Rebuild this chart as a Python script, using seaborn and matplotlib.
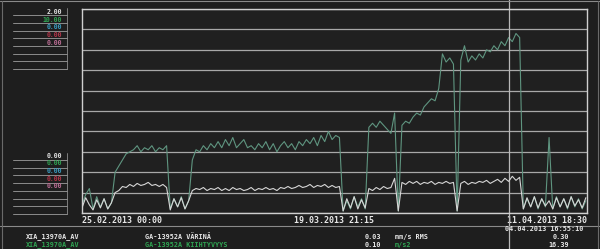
import matplotlib
matplotlib.use("Agg")
import matplotlib.pyplot as plt
import matplotlib.lines as mlines
import seaborn as sns
import pandas as pd

# ---------------- data ----------------
green_vals = [0.4, 0.9, 1.2, 0.2, 0.8, 0.3, 0.7, 0.2, 0.5,
              2.0, 2.3, 2.6, 2.9, 3.0, 3.1, 3.3, 3.0, 3.2, 3.1, 3.3, 3.0, 3.2, 3.1, 3.3,
              0.2, 0.7, 0.3, 0.8, 0.2, 0.6,
              2.6, 3.1, 3.0, 3.3, 3.1, 3.4, 3.2, 3.5, 3.2, 3.6, 3.3, 3.7, 3.2, 3.4, 3.6,
              3.2, 3.3, 3.1, 3.4, 3.2, 3.5, 3.1, 3.4, 3.0, 3.3, 3.5, 3.2, 3.4, 3.1, 3.5,
              3.3, 3.6, 3.4, 3.7, 3.3, 3.8, 3.5, 4.0, 3.6, 3.8, 3.7,
              0.1, 0.6, 0.2, 0.8, 0.3, 0.7, 0.2,
              4.2, 4.4, 4.2, 4.5, 4.3, 4.1, 3.9, 4.9, 0.1,
              4.3, 4.5, 4.4, 4.7, 4.9, 4.8, 5.2, 5.4, 5.6, 5.5, 6.1,
              7.8, 7.4, 7.6, 7.3, 0.1, 7.5, 8.2, 7.4, 7.7, 7.5, 7.8, 7.6, 8.0, 7.9,
              8.2, 8.0, 8.4, 8.2, 8.6, 8.4, 8.8, 8.6,
              0.2, 0.7, 0.3, 0.8, 0.2, 0.7, 0.3, 3.7, 0.2, 0.8, 0.3, 0.7, 0.2, 0.8,
              0.3, 0.7, 0.2, 0.6]
white_vals = [0.05, 0.15, 0.08, 0.03, 0.13, 0.05, 0.14, 0.04, 0.10,
              0.20, 0.22, 0.26, 0.25, 0.28, 0.26, 0.29, 0.27, 0.28, 0.30, 0.27, 0.28, 0.26, 0.28, 0.25,
              0.03, 0.14, 0.06, 0.15, 0.04, 0.12,
              0.22, 0.24, 0.23, 0.25, 0.22, 0.24, 0.23, 0.25, 0.22, 0.24, 0.22, 0.25, 0.23, 0.24, 0.22,
              0.23, 0.25, 0.22, 0.24, 0.23, 0.25, 0.23, 0.24, 0.22, 0.25, 0.24, 0.26, 0.24, 0.25, 0.27,
              0.25, 0.26, 0.28, 0.25, 0.27, 0.26, 0.28, 0.25, 0.27, 0.25, 0.26,
              0.02, 0.14, 0.05, 0.16, 0.04, 0.13, 0.05,
              0.24, 0.22, 0.25, 0.23, 0.26, 0.24, 0.25, 0.34, 0.02,
              0.30, 0.28, 0.31, 0.29, 0.31, 0.28, 0.30, 0.29, 0.31, 0.28, 0.30,
              0.29, 0.31, 0.29, 0.30, 0.02, 0.29, 0.31, 0.28, 0.30, 0.29, 0.31, 0.30, 0.32, 0.29,
              0.31, 0.33, 0.30, 0.34, 0.31, 0.36, 0.32, 0.35,
              0.04, 0.15, 0.06, 0.16, 0.05, 0.14, 0.07, 0.12, 0.04, 0.15, 0.06, 0.14, 0.05, 0.16,
              0.07, 0.13, 0.05, 0.15]
start_time = "2013-02-25 00:00"
sample_step = "8h"
x_start = "2013-02-25 00:00"
x_end = "2013-04-11 18:30"
x_ticks = ["2013-02-25 00:00", "2013-03-19 21:15", "2013-04-11 18:30"]
x_ticklabels = ["25.02.2013 00:00", "19.03.2013 21:15", "11.04.2013 18:30"]
cursor_time = "2013-04-04 16:55:10"
green_max = 10.0
white_max = 2.0

panel_top = ["2.00", "10.00", "0.00", "0.00", "0.00"]
panel_bottom = ["0.00", "0.00", "0.00", "0.00", "0.00"]
panel_colors = ["#e6e6e6", "#2fa552", "#3a9fc4", "#b8354a", "#c07098"]

info_row1 = ["XIA_13970A_AV", "GA-13952A VÄRINÄ", "0.03", "mm/s RMS", "0.30"]
info_row2 = ["XIA_13970A_AV", "GA-13952A KIIHTYVYYS", "0.10", "m/s2", "16.39"]
cursor_label = "04.04.2013 16:55:10"

# ---------------- styling ----------------
BG = "#1e1e1e"
PLOT_BG = "#202020"
GRID = "#a8a8a8"
FRAME = "#cfcfcf"
WHITE_LINE = "#d6d6d6"
GREEN_LINE = "#5f9580"
TXT = "#e8e8e8"
TXT_GREEN = "#2fa552"

sns.set_style("dark")
plt.rcParams["font.family"] = ["DejaVu Sans Mono", "DejaVu Sans"]

times = pd.date_range(start_time, periods=len(green_vals), freq=sample_step)
df = pd.DataFrame({"time": times, "accel": green_vals, "vib": white_vals})

W, H = 600, 249
fig = plt.figure(figsize=(6.0, 2.49), dpi=100, facecolor=BG)

def fx(px):
    return px / W

def fy(py):
    return 1 - py / H

ax = fig.add_axes([fx(82), fy(213), fx(587) - fx(82), fy(9) - fy(213)])
ax.set_facecolor(PLOT_BG)
sns.lineplot(data=df, x="time", y="accel", ax=ax, color=GREEN_LINE, linewidth=0.8)
ax.set_ylim(0, green_max)
ax.set_xlim(pd.Timestamp(x_start), pd.Timestamp(x_end))
ax.set_yticks(range(0, int(green_max) + 1))
ax.set_yticklabels([])
ax.tick_params(axis="y", length=0)
ax.grid(True, axis="y", color=GRID, linewidth=0.9)
ax.grid(False, axis="x")
ax.set_axisbelow(True)
ax.set_xlabel("")
ax.set_ylabel("")
for s in ax.spines.values():
    s.set_color(FRAME)
    s.set_linewidth(1.0)

ax2 = ax.twinx()
sns.lineplot(data=df, x="time", y="vib", ax=ax2, color=WHITE_LINE, linewidth=0.8)
ax2.set_ylim(0, white_max)
ax2.set_yticks([])
ax2.set_ylabel("")
ax2.grid(False)
for s in ax2.spines.values():
    s.set_visible(False)
ax2.set_xlim(pd.Timestamp(x_start), pd.Timestamp(x_end))

ax.set_xticks([pd.Timestamp(t) for t in x_ticks])
ax.set_xticklabels(x_ticklabels, color=TXT, fontsize=6.0, fontweight="bold")
ax.tick_params(axis="x", length=0, pad=2)
labs = ax.get_xticklabels()
labs[0].set_horizontalalignment("left")
labs[1].set_horizontalalignment("center")
labs[2].set_horizontalalignment("right")

# cursor line
ax.axvline(pd.Timestamp(cursor_time), ymin=-0.18, ymax=1.05, clip_on=False,
           color="#b8b8b8", linewidth=0.9)

# figure frame and separators
fig.add_artist(mlines.Line2D([0, 1], [fy(225.5)] * 2, color="#8a8a8a", linewidth=0.8))
fig.add_artist(mlines.Line2D([0, 1], [fy(1)] * 2, color="#8a8a8a", linewidth=0.8))
fig.add_artist(mlines.Line2D([fx(2)] * 2, [0, fy(1)], color="#6a6a6a", linewidth=0.8))
fig.add_artist(mlines.Line2D([fx(597.5)] * 2, [0, fy(1)], color="#6a6a6a", linewidth=0.8))

# left panel
PFS = 4.7
def draw_panel(values, text_y0, line_y0):
    step = 7.7
    for k, (v, c) in enumerate(zip(values, panel_colors)):
        fig.text(fx(62), fy(text_y0 + k * step), v, color=c, fontsize=PFS,
                 fontweight="bold", ha="right", va="center")
    for k in range(8):
        yy = fy(line_y0 + k * step)
        fig.add_artist(mlines.Line2D([fx(13), fx(67)], [yy, yy], color="#8c8c8c", linewidth=0.7))
    fig.add_artist(mlines.Line2D([fx(67)] * 2, [fy(line_y0 - 7), fy(line_y0 + 7 * step)],
                                 color="#8c8c8c", linewidth=0.6))

draw_panel(panel_top, 11.8, 15.2)
draw_panel(panel_bottom, 155.5, 160.0)

# info rows
r1, r2 = fy(237), fy(245)
fs = 4.9
fig.text(fx(26), r1, info_row1[0], color=TXT, fontsize=fs, fontweight="bold", va="center")
fig.text(fx(26), r2, info_row2[0], color=TXT_GREEN, fontsize=fs, fontweight="bold", va="center")
fig.text(fx(145), r1, info_row1[1], color=TXT, fontsize=fs, fontweight="bold", va="center")
fig.text(fx(145), r2, info_row2[1], color=TXT_GREEN, fontsize=fs, fontweight="bold", va="center")
fig.text(fx(381), r1, info_row1[2], color=TXT, fontsize=fs, fontweight="bold", va="center", ha="right")
fig.text(fx(381), r2, info_row2[2], color=TXT, fontsize=fs, fontweight="bold", va="center", ha="right")
fig.text(fx(395), r1, info_row1[3], color=TXT, fontsize=fs, fontweight="bold", va="center")
fig.text(fx(395), r2, info_row2[3], color=TXT_GREEN, fontsize=fs, fontweight="bold", va="center")
fig.text(fx(569), r1, info_row1[4], color=TXT, fontsize=fs, fontweight="bold", va="center", ha="right")
fig.text(fx(569), r2, info_row2[4], color=TXT, fontsize=fs, fontweight="bold", va="center", ha="right")
fig.text(fx(583), fy(229.3), cursor_label, color=TXT, fontsize=fs, fontweight="bold", va="center", ha="right")

fig.savefig("out.png", dpi=100, facecolor=BG)
